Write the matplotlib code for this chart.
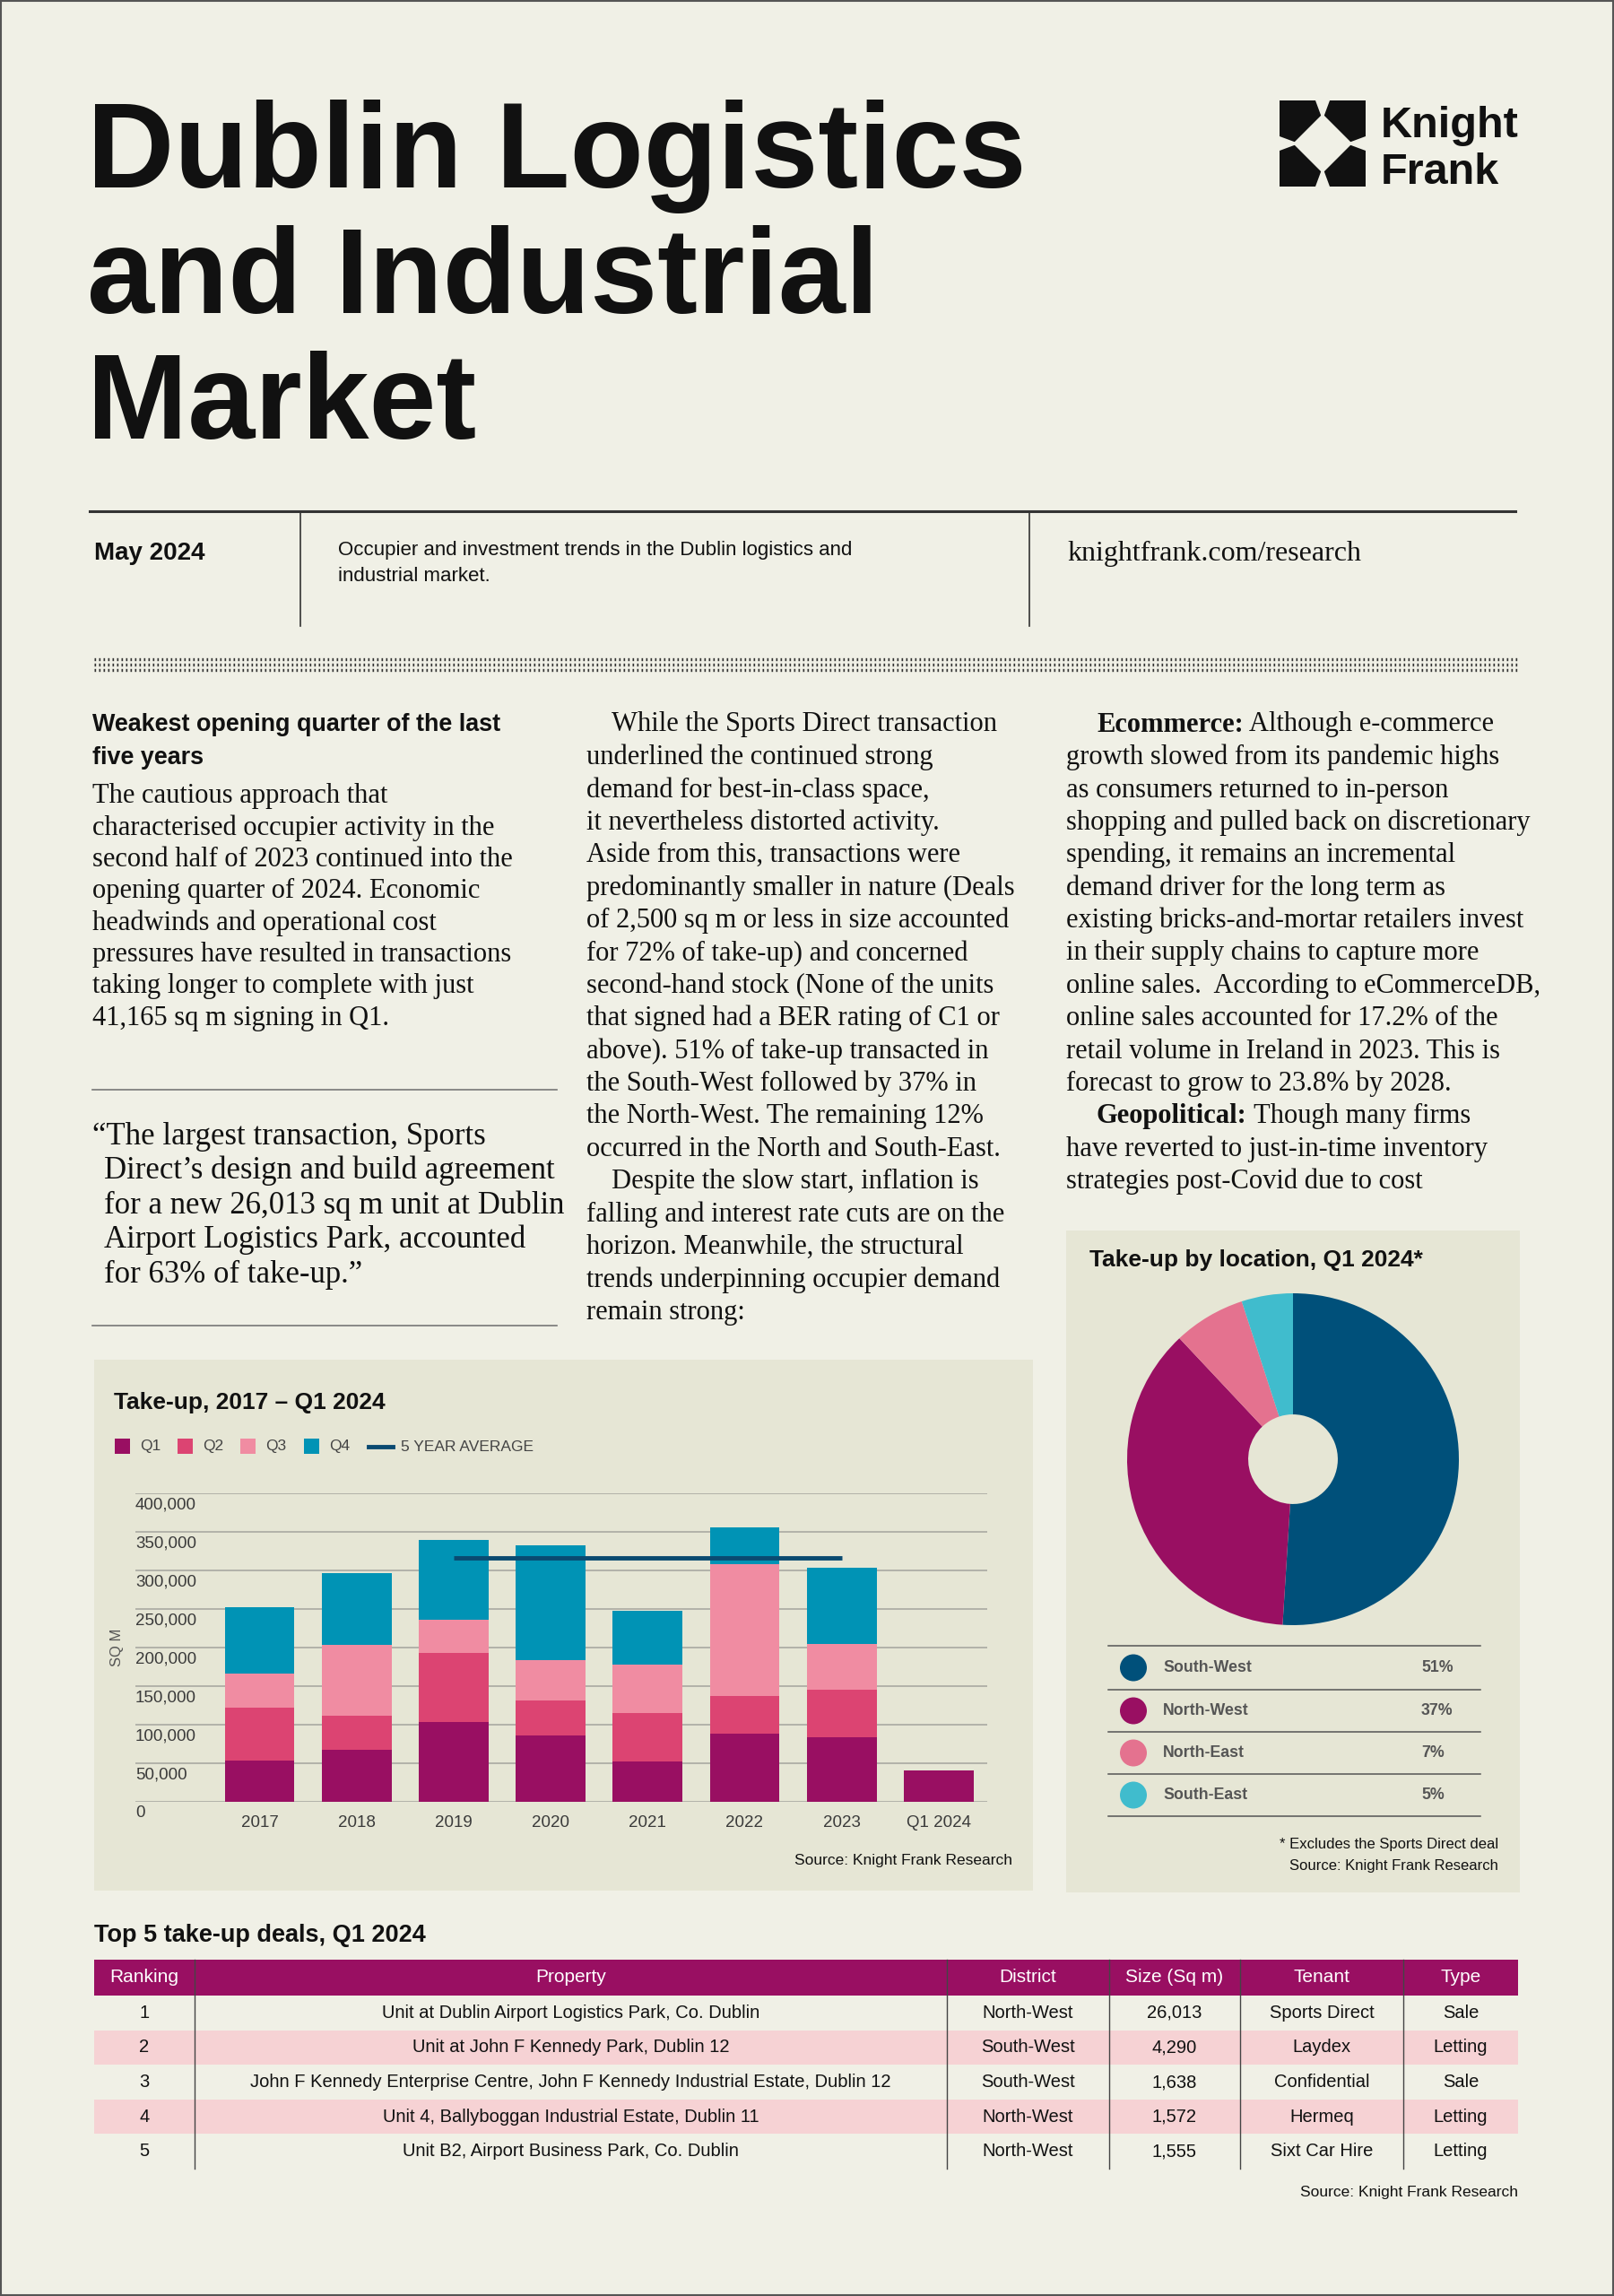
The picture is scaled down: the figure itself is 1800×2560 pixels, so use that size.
import matplotlib
matplotlib.use("Agg")
import matplotlib.pyplot as plt
import numpy as np
from matplotlib.patches import Rectangle, Polygon, Circle
from matplotlib.transforms import blended_transform_factory

W, H = 1800, 2560

# --- data -------------------------------------------------------------
years = ["2017", "2018", "2019", "2020", "2021", "2022", "2023", "Q1 2024"]
q1 = [54000, 67500, 104000, 86000, 52000, 88000, 84000, 41165]
q2 = [68000, 44500, 89000, 45000, 63000, 49000, 61000, 0]
q3 = [44000, 92000, 43000, 53000, 63000, 171000, 60000, 0]
q4 = [86000, 92000, 103000, 148000, 70000, 48000, 99000, 0]
quarter_names = ["Q1", "Q2", "Q3", "Q4"]
avg_label = "5 YEAR AVERAGE"
avg_value = 316000
avg_from, avg_to = "2019", "2023"
y_ticks = [0, 50000, 100000, 150000, 200000, 250000, 300000, 350000, 400000]

locations = ["South-West", "North-West", "North-East", "South-East"]
location_share = [51, 37, 7, 5]

table_header = ["Ranking", "Property", "District", "Size (Sq m)", "Tenant", "Type"]
ranks = [1, 2, 3, 4, 5]
properties = ["Unit at Dublin Airport Logistics Park, Co. Dublin",
              "Unit at John F Kennedy Park, Dublin 12",
              "John F Kennedy Enterprise Centre, John F Kennedy Industrial Estate, Dublin 12",
              "Unit 4, Ballyboggan Industrial Estate, Dublin 11",
              "Unit B2, Airport Business Park, Co. Dublin"]
districts = ["North-West", "South-West", "South-West", "North-West", "North-West"]
sizes = [26013, 4290, 1638, 1572, 1555]
tenants = ["Sports Direct", "Laydex", "Confidential", "Hermeq", "Sixt Car Hire"]
deal_types = ["Sale", "Letting", "Sale", "Letting", "Letting"]

col1_lines = ["The cautious approach that",
              "characterised occupier activity in the",
              "second half of 2023 continued into the",
              "opening quarter of 2024. Economic",
              "headwinds and operational cost",
              "pressures have resulted in transactions",
              "taking longer to complete with just",
              "41,165 sq m signing in Q1."]
quote_lines = ["\u201cThe largest transaction, Sports",
               "Direct\u2019s design and build agreement",
               "for a new 26,013 sq m unit at Dublin",
               "Airport Logistics Park, accounted",
               "for 63% of take-up.\u201d"]
col2_lines = [">While the Sports Direct transaction",
              "underlined the continued strong",
              "demand for best-in-class space,",
              "it nevertheless distorted activity.",
              "Aside from this, transactions were",
              "predominantly smaller in nature (Deals",
              "of 2,500 sq m or less in size accounted",
              "for 72% of take-up) and concerned",
              "second-hand stock (None of the units",
              "that signed had a BER rating of C1 or",
              "above). 51% of take-up transacted in",
              "the South-West followed by 37% in",
              "the North-West. The remaining 12%",
              "occurred in the North and South-East.",
              ">Despite the slow start, inflation is",
              "falling and interest rate cuts are on the",
              "horizon. Meanwhile, the structural",
              "trends underpinning occupier demand",
              "remain strong:"]
col3_lines = [">**Ecommerce:** Although e-commerce",
              "growth slowed from its pandemic highs",
              "as consumers returned to in-person",
              "shopping and pulled back on discretionary",
              "spending, it remains an incremental",
              "demand driver for the long term as",
              "existing bricks-and-mortar retailers invest",
              "in their supply chains to capture more",
              "online sales.  According to eCommerceDB,",
              "online sales accounted for 17.2% of the",
              "retail volume in Ireland in 2023. This is",
              "forecast to grow to 23.8% by 2028.",
              ">**Geopolitical:** Though many firms",
              "have reverted to just-in-time inventory",
              "strategies post-Covid due to cost"]

# --- style ------------------------------------------------------------
BG = "#F0F0E6"
PANEL = "#E6E6D5"
INK = "#111111"
GREY = "#444444"
SANS = "Liberation Sans"
SERIF = "Liberation Serif"
BODY = 22
quarter_colors = ["#990F62", "#DC4472", "#F08CA2", "#0093B5"]
avg_color = "#0A4A70"
pie_colors = ["#00507A", "#990F62", "#E4728F", "#40BCCD"]
PINK_ROW = "#F6D2D4"

fig = plt.figure(figsize=(W / 100, H / 100), dpi=100, facecolor=BG)
renderer = fig.canvas.get_renderer()
page = fig.add_axes([0, 0, 1, 1])
page.set_xlim(0, W); page.set_ylim(H, 0); page.axis("off")
page.add_patch(Rectangle((1, 1), W - 2, H - 2, fill=False, ec="#555555", lw=1.5))

# title + logo
for i, s in enumerate(["Dublin Logistics", "and Industrial", "Market"]):
    page.text(97, 209 + i * 140, s, fontsize=97, family=SANS, weight="bold", color=INK, va="baseline")

page.add_patch(Rectangle((1427, 112), 96, 96, color=INK, lw=0))
cx, cy = 1475, 160
page.add_patch(Polygon([(cx, cy - 33), (cx + 33, cy), (cx, cy + 33), (cx - 33, cy)], color=BG, lw=0))
for (px, py, dx, dy) in [(cx, 112, 1, 0), (cx, 208, 1, 0), (1427, cy, 0, 1), (1523, cy, 0, 1)]:
    tip = (px + (cx - px) * 0.45, py + (cy - py) * 0.45)
    page.add_patch(Polygon([(px - 8 * dx, py - 8 * dy), (px + 8 * dx, py + 8 * dy), tip], color=BG, lw=0))
page.text(1540, 153, "Knight", fontsize=35, family=SANS, weight="bold", color=INK, va="baseline")
page.text(1540, 205, "Frank", fontsize=35, family=SANS, weight="bold", color=INK, va="baseline")

# header strip
page.plot([100, 1690], [570, 570], color="#333333", lw=2.2)
for xv in [335, 1148]:
    page.plot([xv, xv], [570, 698], color="#333333", lw=1.2)
page.text(105, 617, "May 2024", fontsize=20, family=SANS, weight="bold", color=INK, va="center")
page.text(377, 613, "Occupier and investment trends in the Dublin logistics and", fontsize=16, family=SANS, color=INK, va="center")
page.text(377, 642, "industrial market.", fontsize=16, family=SANS, color=INK, va="center")
page.text(1190, 617, "knightfrank.com/research", fontsize=23, family=SERIF, color=INK, va="center")
for yv in [735, 741, 747]:
    page.plot([105, 1693], [yv, yv], color="#333333", lw=2.4, linestyle=(0, (0.5, 1.0)))


def draw_lines(x, y0, step, lines, size, indent=28):
    for i, line in enumerate(lines):
        y = y0 + i * step
        xi = x
        if line.startswith(">"):
            line = line[1:]
            xi = x + indent
        if line.startswith("**"):
            bold, rest = line[2:].split("**", 1)
            t = page.text(xi, y, bold, fontsize=size, family=SERIF, weight="bold", color=INK, va="center")
            xi += t.get_window_extent(renderer).width
            line = rest
        page.text(xi, y, line, fontsize=size, family=SERIF, color=INK, va="center")


# column 1
page.text(103, 808, "Weakest opening quarter of the last", fontsize=19.4, family=SANS, weight="bold", color=INK, va="center")
page.text(103, 845, "five years", fontsize=19.4, family=SANS, weight="bold", color=INK, va="center")
draw_lines(103, 888, 35.3, col1_lines, BODY)
page.plot([103, 621], [1215, 1215], color="#777777", lw=1.2)
for i, s in enumerate(quote_lines):
    page.text(103 if i == 0 else 116, 1267 + i * 38.5, s, fontsize=25, family=SERIF, color=INK, va="center")
page.plot([103, 621], [1478, 1478], color="#777777", lw=1.2)

# columns 2 and 3
draw_lines(654, 808, 36.4, col2_lines, BODY)
draw_lines(1189, 808, 36.4, col3_lines, BODY, indent=34)

# --- bar chart panel --------------------------------------------------
page.add_patch(Rectangle((105, 1516), 1047, 592, color=PANEL, lw=0))
page.text(127, 1564, "Take-up, 2017 \u2013 Q1 2024", fontsize=19, family=SANS, weight="bold", color=INK, va="center")
leg_x = [128, 198, 268, 339]
for lx, name, col in zip(leg_x, quarter_names, quarter_colors):
    page.add_patch(Rectangle((lx, 1604), 17, 17, color=col, lw=0))
    page.text(lx + 28, 1613, name, fontsize=12.5, family=SANS, color=GREY, va="center")
page.plot([411, 438], [1613, 1613], color=avg_color, lw=3.5)
page.text(447, 1613, avg_label, fontsize=12.5, family=SANS, color=GREY, va="center")
page.text(130, 1837, "SQ M", fontsize=12, family=SANS, color="#555555", rotation=90, ha="center", va="center")

ax = fig.add_axes([151 / W, 1 - 2009 / H, 950 / W, 344 / H])
ax.set_facecolor("none")
x = np.arange(len(years))
bottom = np.zeros(len(years))
for vals, name, col in zip([q1, q2, q3, q4], quarter_names, quarter_colors):
    ax.bar(x, vals, 0.72, bottom=bottom, color=col, zorder=3, label=name)
    bottom += np.array(vals)
ax.plot([years.index(avg_from), years.index(avg_to)], [avg_value, avg_value],
        color=avg_color, lw=3.5, zorder=4, solid_capstyle="butt")
ax.set_xlim(-1.28, 7.5)
ax.set_ylim(0, 400000)
ax.set_yticks(y_ticks)
ax.yaxis.grid(True, color="#A9A9A2", lw=1.2)
ax.set_axisbelow(True)
ax.tick_params(axis="y", length=0, labelleft=False)
ax.set_xticks(x, years)
ax.tick_params(axis="x", length=0, pad=11, labelsize=13.5, labelcolor="#3a3a3a")
for lab in ax.get_xticklabels():
    lab.set_family(SANS)
for s in ax.spines.values():
    s.set_visible(False)
ytrans = blended_transform_factory(ax.transAxes, ax.transData)
for v in y_ticks:
    ax.annotate(f"{v:,}", xy=(0, v), xycoords=ytrans, xytext=(0, -3), textcoords="offset points",
                ha="left", va="top", fontsize=13.5, family=SANS, color="#3a3a3a")
page.text(1129, 2074, "Source: Knight Frank Research", fontsize=12.5, family=SANS, color=INK, ha="right", va="center")

# --- pie panel --------------------------------------------------------
page.add_patch(Rectangle((1189, 1372), 506, 738, color=PANEL, lw=0))
page.text(1215, 1405, "Take-up by location, Q1 2024*", fontsize=19, family=SANS, weight="bold", color=INK, va="center")
pax = fig.add_axes([1257 / W, 1 - 1812 / H, 370 / W, 370 / H])
pax.pie(location_share, colors=pie_colors, startangle=90, counterclock=False, radius=1,
        wedgeprops=dict(width=0.73, linewidth=0))
pax.set_xlim(-1, 1); pax.set_ylim(-1, 1)

row_lines = [1835, 1884, 1931, 1978, 2025]
for yv in row_lines:
    page.plot([1236, 1651], [yv, yv], color="#555555", lw=1.1)
for i, (loc, share, col) in enumerate(zip(locations, location_share, pie_colors)):
    yc = (row_lines[i] + row_lines[i + 1]) / 2
    page.add_patch(Circle((1264, yc), 15, color=col, lw=0))
    page.text(1297, yc, loc, fontsize=12.8, family=SANS, weight="bold", color="#555555", va="center")
    page.text(1585, yc, f"{share}%", fontsize=12.8, family=SANS, weight="bold", color="#555555", va="center")
page.text(1671, 2057, "* Excludes the Sports Direct deal", fontsize=12, family=SANS, color=INK, ha="right", va="center")
page.text(1671, 2080, "Source: Knight Frank Research", fontsize=12, family=SANS, color=INK, ha="right", va="center")

# --- table ------------------------------------------------------------
page.text(105, 2158, "Top 5 take-up deals, Q1 2024", fontsize=19.5, family=SANS, weight="bold", color=INK, va="center")
col_edges = [105, 217, 1056, 1237, 1383, 1565, 1693]
head_top, head_bot = 2185, 2225
row_h = 38.6
page.add_patch(Rectangle((105, head_top), 1588, head_bot - head_top, color=quarter_colors[0], lw=0))
for r in range(len(ranks)):
    if r % 2 == 1:
        page.add_patch(Rectangle((105, head_bot + r * row_h), 1588, row_h, color=PINK_ROW, lw=0))
tab_bottom = head_bot + len(ranks) * row_h
for xv in col_edges[1:-1]:
    page.plot([xv, xv], [head_top, tab_bottom], color="#444444", lw=1)
centers = [(a + b) / 2 for a, b in zip(col_edges[:-1], col_edges[1:])]
for c, h in zip(centers, table_header):
    page.text(c, (head_top + head_bot) / 2, h, fontsize=15, family=SANS, color="white", ha="center", va="center")
for r, row in enumerate(zip(ranks, properties, districts, sizes, tenants, deal_types)):
    yc = head_bot + (r + 0.5) * row_h
    cells = [str(row[0]), row[1], row[2], f"{row[3]:,}", row[4], row[5]]
    for c, s in zip(centers, cells):
        page.text(c, yc, s, fontsize=14.5, family=SANS, color=INK, ha="center", va="center")
page.text(1693, 2445, "Source: Knight Frank Research", fontsize=12.5, family=SANS, color=INK, ha="right", va="center")

fig.savefig("out.png", dpi=100, facecolor=BG)
